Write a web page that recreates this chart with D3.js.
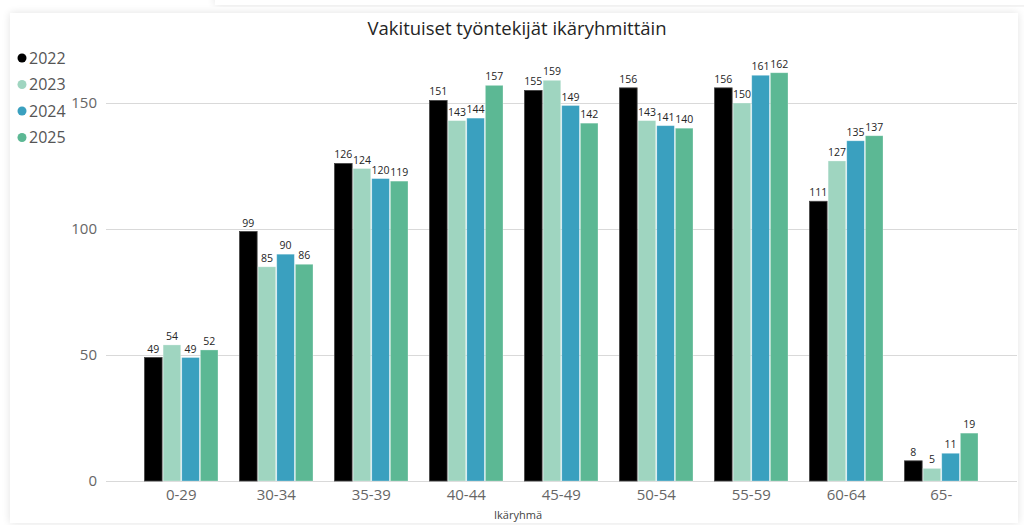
<!DOCTYPE html>
<html><head><meta charset="utf-8">
<script src="https://cdn.jsdelivr.net/npm/d3@7"></script>
<style>
html,body{margin:0;padding:0;background:#fff;}
svg{display:block;font-family:"Segoe UI","Open Sans",sans-serif;}
</style></head>
<body>
<svg id="c" width="1024" height="525"></svg>
<script>
const categories = ["0-29","30-34","35-39","40-44","45-49","50-54","55-59","60-64","65-"];
const years = ["2022","2023","2024","2025"];
const v2022 = [49,99,126,151,155,156,156,111,8];
const v2023 = [54,85,124,143,159,143,150,127,5];
const v2024 = [49,90,120,144,149,141,161,135,11];
const v2025 = [52,86,119,157,142,140,162,137,19];
const yTicks = [0,50,100,150];
const colors = ["#000000","#9fd5c0","#3aa0bf","#5cb894"];
const series = [v2022,v2023,v2024,v2025];

const svg = d3.select("#c");
// card
const defs = svg.append("defs");
const f = defs.append("filter").attr("id","sh").attr("x","-5%").attr("y","-5%").attr("width","110%").attr("height","110%");
f.append("feGaussianBlur").attr("in","SourceAlpha").attr("stdDeviation",4);
f.append("feOffset").attr("dx",0).attr("dy",0).attr("result","b");
f.append("feComponentTransfer").append("feFuncA").attr("type","linear").attr("slope",0.12);
const fm = f.append("feMerge"); fm.append("feMergeNode"); fm.append("feMergeNode").attr("in","SourceGraphic");
svg.append("rect").attr("x",215).attr("y",-20).attr("width",830).attr("height",25).attr("fill","#fff").attr("filter","url(#sh)");
svg.append("rect").attr("x",10).attr("y",13).attr("width",1008).attr("height",510).attr("fill","#fff").attr("filter","url(#sh)");

const x0 = d3.scaleBand().domain(categories).range([144,978.5]).paddingInner(0.216).paddingOuter(0);
const x1 = d3.scaleBand().domain(years).range([0,x0.bandwidth()]).padding(0);
const y = d3.scaleLinear().domain([0,175]).range([481,40]);

// gridlines
svg.append("g").selectAll("line").data(yTicks).join("line")
  .attr("x1",106).attr("x2",1017).attr("y1",d=>y(d)+0.5).attr("y2",d=>y(d)+0.5)
  .attr("stroke","#d9d9d9").attr("stroke-width",1);
// y labels
svg.append("g").selectAll("text").data(yTicks).join("text")
  .attr("x",97).attr("y",d=>y(d)).attr("dy","0.35em").attr("text-anchor","end")
  .attr("font-size",15).attr("fill","#666").text(d=>d);

// bars
const groups = svg.append("g").selectAll("g").data(categories).join("g")
  .attr("transform",d=>`translate(${x0(d)},0)`);
groups.each(function(cat,ci){
  const g = d3.select(this);
  years.forEach((yr,si)=>{
    const v = series[si][ci];
    g.append("rect").attr("x",x1(yr)+0.5).attr("width",x1.bandwidth()-1)
      .attr("y",y(v)).attr("height",y(0)-y(v))
      .attr("fill",colors[si]).attr("stroke", si===0?"#444":"rgba(255,255,255,0.35)").attr("stroke-width",0.8);
    g.append("text").attr("x",x1(yr)+x1.bandwidth()/2).attr("y",y(v)-5)
      .attr("text-anchor","middle").attr("font-size",10.5).attr("fill","#252525").text(v);
  });
});

// x axis labels
svg.append("g").selectAll("text").data(categories).join("text")
  .attr("x",d=>x0(d)+x0.bandwidth()/2).attr("y",500).attr("text-anchor","middle")
  .attr("font-size",15).attr("fill","#666").text(d=>d);
svg.append("text").attr("x",518).attr("y",519).attr("text-anchor","middle")
  .attr("font-size",11).attr("fill","#444").text("Ikäryhmä");

// title
svg.append("text").attr("x",517).attr("y",35).attr("text-anchor","middle")
  .attr("font-size",18.5).attr("fill","#252525").text("Vakituiset työntekijät ikäryhmittäin");

// legend
const lg = svg.append("g").selectAll("g").data(years).join("g")
  .attr("transform",(d,i)=>`translate(22,${58+i*26.5})`);
lg.append("circle").attr("r",4.5).attr("fill",(d,i)=>colors[i]);
lg.append("text").attr("x",7).attr("dy","0.35em").attr("font-size",16).attr("fill","#555").text(d=>d);
</script>
</body></html>
